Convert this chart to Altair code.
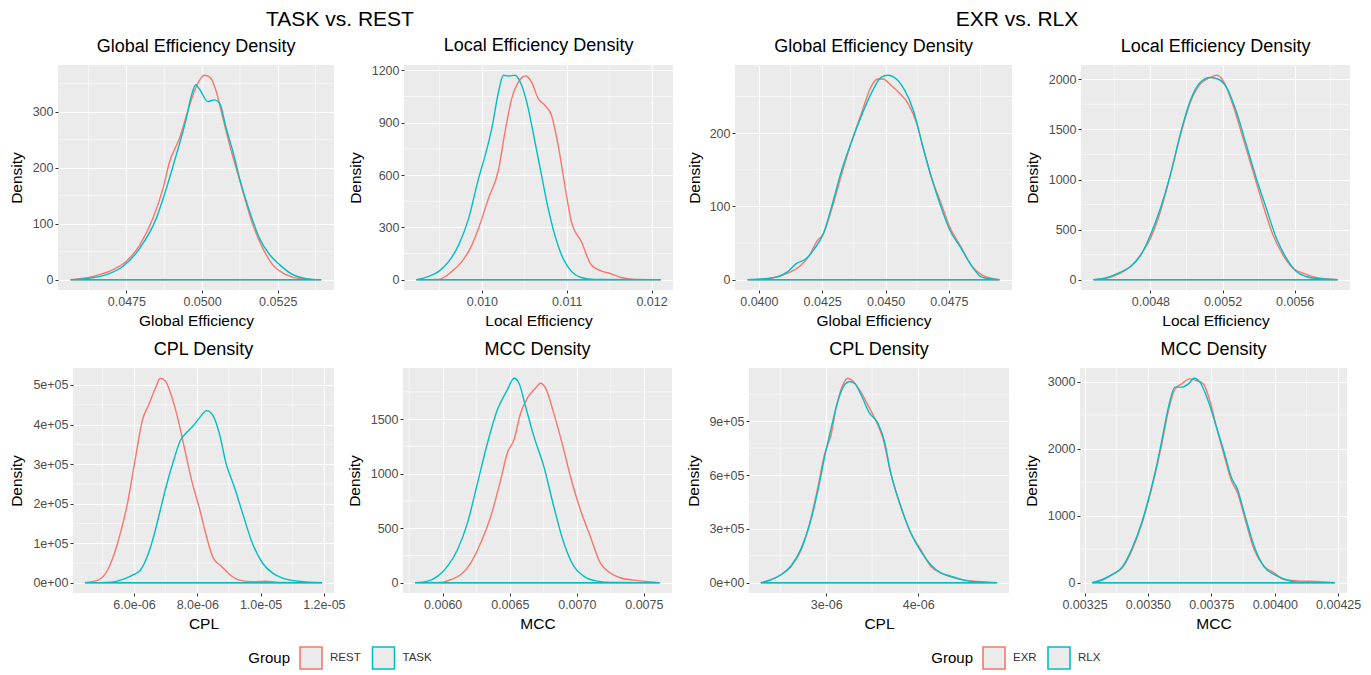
import altair as alt
import pandas as pd

FONT = "Liberation Sans"
RED, TEAL = "#F8766D", "#00BFC4"
LEFT_GROUPS = ["REST", "TASK"]
RIGHT_GROUPS = ["EXR", "RLX"]
GROUP_TITLES = ["TASK vs. REST", "EXR vs. RLX"]
PH = 225  # panel height

# ---------------- TASK vs. REST : Global Efficiency ----------------
ge1_rest_x = [0.045653, 0.0464, 0.04706, 0.0475, 0.04794, 0.04838, 0.04871, 0.04893, 0.04926, 0.04959,
              0.04981, 0.05008, 0.05025, 0.05047, 0.05069, 0.05091, 0.05113, 0.05135, 0.05168, 0.05201,
              0.05233, 0.05278, 0.05322, 0.053941]
ge1_rest_y = [0, 6, 18, 33, 62, 110, 163, 211, 253, 312, 345, 365, 362, 336, 288, 241, 199, 157, 98, 56,
              27, 9, 2, 0]
ge1_task_x = [0.045653, 0.04618, 0.04684, 0.04739, 0.04794, 0.04849, 0.04882, 0.04915, 0.04948, 0.04964,
              0.04979, 0.04992, 0.05019, 0.05041, 0.05058, 0.0508, 0.05102, 0.05124, 0.05157, 0.0519,
              0.05223, 0.05256, 0.053, 0.05344, 0.053941]
ge1_task_y = [0, 2, 9, 24, 56, 110, 163, 223, 288, 327, 348, 340, 318, 321, 315, 270, 229, 181, 122, 74,
              45, 27, 9, 2, 0]

# ---------------- TASK vs. REST : Local Efficiency ----------------
le1_rest_x = [0.009226, 0.009492, 0.009648, 0.009766, 0.009883, 0.009961, 0.010078, 0.010196, 0.010273,
              0.010352, 0.01043, 0.010516, 0.010586, 0.010664, 0.010742, 0.01082, 0.010899, 0.010977,
              0.011055, 0.011172, 0.011289, 0.011406, 0.011524, 0.011641, 0.011797, 0.012109]
le1_rest_y = [0, 2, 48, 105, 200, 295, 467, 629, 848, 1038, 1133, 1168, 1133, 1038, 1000, 943, 772, 543,
              333, 219, 86, 51, 34, 13, 2, 0]
le1_task_x = [0.009226, 0.009375, 0.009492, 0.00961, 0.009727, 0.009844, 0.009961, 0.01004, 0.010117,
              0.010196, 0.010254, 0.010313, 0.01039, 0.010469, 0.010547, 0.010625, 0.010703, 0.010781,
              0.010859, 0.010938, 0.011055, 0.011172, 0.011328, 0.012109]
le1_task_y = [0, 19, 48, 105, 200, 352, 581, 714, 867, 1076, 1172, 1168, 1172, 1114, 981, 791, 600, 410,
              257, 143, 48, 13, 2, 0]

# ---------------- TASK vs. REST : CPL ----------------
cpl1_rest_x = [4.445e-6, 4.86e-6, 5.17e-6, 5.48e-6, 5.79e-6, 6.05e-6, 6.26e-6, 6.47e-6, 6.68e-6, 6.83e-6,
               6.99e-6, 7.2e-6, 7.4e-6, 7.61e-6, 7.82e-6, 8.08e-6, 8.29e-6, 8.5e-6, 8.76e-6, 9.02e-6,
               9.33e-6, 9.74e-6, 1.016e-5, 1.058e-5, 1.1945e-5]
cpl1_rest_y = [0, 6.7e3, 33e3, 100e3, 200e3, 318e3, 410e3, 451e3, 493e3, 517e3, 510e3, 468e3, 410e3,
               334e3, 259e3, 184e3, 117e3, 63e3, 42e3, 21e3, 6.7e3, 2.5e3, 4e3, 1e3, 0]
cpl1_task_x = [4.445e-6, 5.27e-6, 5.69e-6, 6.0e-6, 6.21e-6, 6.42e-6, 6.62e-6, 6.83e-6, 7.04e-6, 7.25e-6,
               7.46e-6, 7.66e-6, 7.87e-6, 8.08e-6, 8.29e-6, 8.5e-6, 8.7e-6, 8.91e-6, 9.17e-6, 9.43e-6,
               9.74e-6, 1.006e-5, 1.037e-5, 1.068e-5, 1.12e-5, 1.1945e-5]
cpl1_task_y = [0, 1.7e3, 10e3, 21e3, 33e3, 67e3, 117e3, 184e3, 251e3, 309e3, 359e3, 380e3, 397e3, 418e3,
               435e3, 422e3, 376e3, 301e3, 242e3, 176e3, 100e3, 50e3, 25e3, 12.5e3, 4e3, 0]

# ---------------- TASK vs. REST : MCC ----------------
mcc1_rest_x = [0.005795, 0.005988, 0.006062, 0.006136, 0.00621, 0.006284, 0.006359, 0.006433, 0.006482,
               0.006532, 0.006581, 0.006631, 0.006692, 0.00673, 0.006767, 0.006828, 0.00689, 0.006952,
               0.007026, 0.0071, 0.007175, 0.007249, 0.007323, 0.007422, 0.007496, 0.007619]
mcc1_rest_y = [0, 3, 30, 76, 183, 366, 610, 945, 1189, 1311, 1555, 1692, 1784, 1829, 1784, 1555, 1281, 976,
               671, 427, 183, 91, 46, 24, 15, 0]
mcc1_task_x = [0.005795, 0.005889, 0.005963, 0.006037, 0.006111, 0.006185, 0.00626, 0.006334, 0.006408,
               0.006482, 0.006532, 0.006569, 0.006618, 0.00668, 0.006754, 0.006828, 0.006903, 0.006977,
               0.007051, 0.00715, 0.007274, 0.007619]
mcc1_task_y = [0, 15, 61, 152, 305, 549, 915, 1281, 1585, 1768, 1875, 1829, 1616, 1342, 1067, 701, 366, 152,
               61, 15, 3, 0]

# ---------------- EXR vs. RLX : Global Efficiency ----------------
ge2_exr_x = [0.039557, 0.040068, 0.040603, 0.041142, 0.041608, 0.04201, 0.04228, 0.042549, 0.042882,
             0.043284, 0.043686, 0.044088, 0.044422, 0.044691, 0.044892, 0.045226, 0.045564, 0.045897,
             0.046231, 0.0465, 0.046834, 0.047172, 0.047506, 0.047976, 0.048378, 0.04878, 0.049182, 0.049502]
ge2_exr_y = [0, 0.4, 3, 9, 18, 34, 52, 63, 97, 146, 191, 231, 263, 274, 274, 265, 254, 240, 213, 178, 137,
             106, 74, 45, 20, 7, 2, 0]
ge2_rlx_x = [0.039557, 0.040068, 0.040739, 0.041142, 0.041475, 0.041877, 0.042211, 0.042549, 0.042882,
             0.043284, 0.043686, 0.044088, 0.04449, 0.044824, 0.045093, 0.045427, 0.045765, 0.046098,
             0.0465, 0.046834, 0.047172, 0.047506, 0.047976, 0.048378, 0.04878, 0.049182, 0.049502]
ge2_rlx_y = [0, 1, 4, 11, 22, 29, 43, 63, 101, 151, 191, 227, 258, 276, 279, 274, 258, 231, 178, 137, 101,
             70, 43, 20, 4, 1, 0]

# ---------------- EXR vs. RLX : Local Efficiency ----------------
le2_exr_x = [0.004483, 0.004561, 0.004634, 0.00469, 0.004745, 0.0048, 0.004855, 0.00491, 0.004966, 0.005021,
             0.005076, 0.005131, 0.005167, 0.005204, 0.005259, 0.005315, 0.00537, 0.005425, 0.00548,
             0.005535, 0.00559, 0.005646, 0.005719, 0.005839]
le2_exr_y = [0, 17, 66, 132, 248, 413, 678, 1041, 1438, 1769, 1951, 2017, 2040, 1984, 1736, 1405, 1074, 744,
             446, 248, 116, 66, 23, 0]
le2_rlx_x = [0.004483, 0.004561, 0.004634, 0.00469, 0.004745, 0.0048, 0.004855, 0.00491, 0.004966, 0.005021,
             0.005076, 0.005131, 0.005177, 0.005223, 0.005278, 0.005333, 0.005388, 0.005443, 0.005499,
             0.005554, 0.005609, 0.005664, 0.005738, 0.005839]
le2_rlx_y = [0, 23, 76, 132, 241, 446, 711, 1041, 1455, 1785, 1967, 2017, 2000, 1917, 1670, 1339, 1008, 711,
             413, 215, 83, 33, 10, 0]

# ---------------- EXR vs. RLX : CPL ----------------
cpl2_exr_x = [2.289e-6, 2.404e-6, 2.513e-6, 2.621e-6, 2.729e-6, 2.838e-6, 2.91e-6, 2.982e-6, 3.054e-6,
              3.108e-6, 3.181e-6, 3.235e-6, 3.289e-6, 3.361e-6, 3.451e-6, 3.542e-6, 3.614e-6, 3.704e-6,
              3.812e-6, 3.921e-6, 4.029e-6, 4.137e-6, 4.245e-6, 4.354e-6, 4.498e-6, 4.642e-6, 4.859e-6]
cpl2_exr_y = [0, 18e3, 46e3, 92e3, 184e3, 367e3, 533e3, 716e3, 827e3, 974e3, 1102e3, 1139e3, 1124e3,
              1075e3, 992e3, 900e3, 808e3, 606e3, 423e3, 276e3, 184e3, 92e3, 55e3, 33e3, 15e3, 7e3, 0]
cpl2_rlx_x = [2.289e-6, 2.404e-6, 2.513e-6, 2.621e-6, 2.729e-6, 2.838e-6, 2.91e-6, 2.982e-6, 3.054e-6,
              3.126e-6, 3.199e-6, 3.253e-6, 3.307e-6, 3.379e-6, 3.469e-6, 3.56e-6, 3.632e-6, 3.704e-6,
              3.812e-6, 3.921e-6, 4.029e-6, 4.137e-6, 4.245e-6, 4.354e-6, 4.498e-6, 4.642e-6, 4.859e-6]
cpl2_rlx_y = [0, 18e3, 46e3, 96e3, 193e3, 358e3, 514e3, 698e3, 863e3, 1010e3, 1102e3, 1121e3, 1111e3,
              1047e3, 946e3, 891e3, 790e3, 606e3, 423e3, 276e3, 175e3, 101e3, 55e3, 37e3, 15e3, 4e3, 0]

# ---------------- EXR vs. RLX : MCC ----------------
mcc2_exr_x = [0.00328, 0.003321, 0.00336, 0.003399, 0.003438, 0.003477, 0.003503, 0.003529, 0.003555,
              0.003581, 0.003607, 0.003633, 0.003666, 0.003692, 0.003718, 0.003744, 0.00377, 0.003802,
              0.003828, 0.003854, 0.00388, 0.003919, 0.003958, 0.003997, 0.004036, 0.004101, 0.004166,
              0.004237]
mcc2_exr_y = [0, 40, 124, 222, 494, 890, 1236, 1631, 2076, 2570, 2891, 2965, 3039, 3015, 2965, 2718, 2323,
              1878, 1532, 1334, 988, 494, 247, 148, 49, 25, 20, 0]
mcc2_rlx_x = [0.00328, 0.003321, 0.00336, 0.003399, 0.003438, 0.003477, 0.003503, 0.003529, 0.003555,
              0.003581, 0.003607, 0.003633, 0.00366, 0.003682, 0.003705, 0.003737, 0.00377, 0.003802,
              0.003828, 0.003854, 0.00388, 0.003919, 0.003958, 0.003997, 0.004036, 0.004088, 0.004237]
mcc2_rlx_y = [0, 49, 124, 237, 519, 914, 1260, 1656, 2125, 2619, 2916, 2916, 2965, 3049, 2990, 2718, 2323,
              1927, 1581, 1384, 1038, 544, 237, 124, 59, 10, 0]


def panel(title, xtitle, groups, xa, ya, xb, yb, xdom, ydom, xticks, yticks, xminor, yminor,
          width, yext, ytpad, xfmt=None, xexpr=None, yfmt="d", yexpr=None):
    df = pd.DataFrame({
        "x": list(xa) + list(xb),
        "y": list(ya) + list(yb),
        "group": [groups[0]] * len(xa) + [groups[1]] * len(xb),
    })
    xs = alt.Scale(domain=xdom, nice=False, zero=False)
    ys = alt.Scale(domain=ydom, nice=False, zero=False)
    xkw = dict(values=xticks, title=xtitle, minExtent=18, maxExtent=18, titlePadding=5.25, labelFlush=False)
    if xfmt:
        xkw["format"] = xfmt
    if xexpr:
        xkw["labelExpr"] = xexpr
    ykw = dict(values=yticks, title="Density", minExtent=yext, maxExtent=yext, titlePadding=ytpad,
               labelFlush=False)
    if yfmt:
        ykw["format"] = yfmt
    if yexpr:
        ykw["labelExpr"] = yexpr
    xaxis = alt.Axis(**xkw)
    yaxis = alt.Axis(**ykw)

    vgrid = alt.Chart(pd.DataFrame({"v": xminor})).mark_rule(color="white", strokeWidth=0.55).encode(
        x=alt.X("v:Q", scale=xs, axis=xaxis))
    hgrid = alt.Chart(pd.DataFrame({"v": yminor})).mark_rule(color="white", strokeWidth=0.55).encode(
        y=alt.Y("v:Q", scale=ys, axis=yaxis))
    area = alt.Chart(df).mark_area(fillOpacity=0, strokeWidth=1.4, interpolate="monotone", clip=True).encode(
        x=alt.X("x:Q", scale=xs, axis=xaxis),
        y=alt.Y("y:Q", scale=ys, axis=yaxis),
        y2=alt.datum(0),
        stroke=alt.Stroke("group:N", scale=alt.Scale(domain=groups, range=[RED, TEAL]), legend=None),
    )
    return alt.layer(vgrid, hgrid, area).properties(
        width=width, height=PH,
        title=alt.TitleParams(title, fontSize=18, anchor="middle", frame="group", offset=9),
        view=alt.ViewBackground(fill="#EBEBEB", stroke="transparent"),
    )


def legend(groups, width, key_px, title_px):
    d = pd.DataFrame({"group": groups})
    xs = alt.Scale(type="point", domain=groups, range=key_px, padding=0)
    base = alt.Chart(d).encode(x=alt.X("group:N", scale=xs, axis=None))
    keys = base.mark_square(size=484, fill="#EBEBEB", strokeWidth=1.6, opacity=1).encode(
        stroke=alt.Stroke("group:N", scale=alt.Scale(domain=groups, range=[RED, TEAL]), legend=None))
    labels = base.mark_text(align="left", dx=19, fontSize=11.5, color="#333333").encode(text="group:N")
    ttl = alt.Chart(pd.DataFrame({"t": ["Group"]})).mark_text(align="right", fontSize=15, color="black").encode(
        x=alt.value(title_px), text="t:N")
    return alt.layer(keys, labels, ttl).properties(width=width, height=22)


def spacer():
    return alt.Chart(pd.DataFrame({"s": [0]})).mark_rule(opacity=0, strokeWidth=0).encode(
        x=alt.value(0), y=alt.value(0), y2=alt.value(1)).properties(width=1, height=1)


sci_e = "replace(format(datum.value, '.0e'), 'e+', 'e+0')"
sci_x1 = "replace(format(datum.value, '.1e'), 'e-', 'e-0')"
sci_x0 = "replace(format(datum.value, '.0e'), 'e-', 'e-0')"

p1 = panel("Global Efficiency Density", "Global Efficiency", LEFT_GROUPS,
           ge1_rest_x, ge1_rest_y, ge1_task_x, ge1_task_y,
           [0.04524, 0.05436], [-18.3, 383.3], [0.0475, 0.05, 0.0525], [0, 100, 200, 300],
           [0.04625, 0.04875, 0.05125, 0.05375], [50, 150, 250, 350],
           276, 26, 7.25, xfmt=".4f")
p2 = panel("Local Efficiency Density", "Local Efficiency", LEFT_GROUPS,
           le1_rest_x, le1_rest_y, le1_task_x, le1_task_y,
           [0.009082, 0.012253], [-58.6, 1230.6], [0.010, 0.011, 0.012], [0, 300, 600, 900, 1200],
           [0.0095, 0.0105, 0.0115], [150, 450, 750, 1050],
           269, 33, 7.25, xfmt=".3f")
p5 = panel("CPL Density", "CPL", LEFT_GROUPS,
           cpl1_rest_x, cpl1_rest_y, cpl1_task_x, cpl1_task_y,
           [4.07e-6, 1.232e-5], [-25850, 542850], [6e-6, 8e-6, 1e-5, 1.2e-5],
           [0, 1e5, 2e5, 3e5, 4e5, 5e5],
           [5e-6, 7e-6, 9e-6, 1.1e-5], [5e4, 1.5e5, 2.5e5, 3.5e5, 4.5e5],
           261, 41, 7.25, xexpr=sci_x1, yfmt=None, yexpr=sci_e)
p6 = panel("MCC Density", "MCC", LEFT_GROUPS,
           mcc1_rest_x, mcc1_rest_y, mcc1_task_x, mcc1_task_y,
           [0.005704, 0.00771], [-93.75, 1968.75], [0.006, 0.0065, 0.007, 0.0075], [0, 500, 1000, 1500],
           [0.00575, 0.00625, 0.00675, 0.00725], [250, 750, 1250, 1750],
           269, 33, 7.25, xfmt=".4f")

p3 = panel("Global Efficiency Density", "Global Efficiency", RIGHT_GROUPS,
           ge2_exr_x, ge2_exr_y, ge2_rlx_x, ge2_rlx_y,
           [0.03906, 0.04999], [-14, 293], [0.04, 0.0425, 0.045, 0.0475], [0, 100, 200],
           [0.04125, 0.04375, 0.04625, 0.04875], [50, 150, 250],
           277, 26, 6.25, xfmt=".4f")
p4 = panel("Local Efficiency Density", "Local Efficiency", RIGHT_GROUPS,
           le2_exr_x, le2_exr_y, le2_rlx_x, le2_rlx_y,
           [0.004415, 0.005907], [-102, 2142], [0.0048, 0.0052, 0.0056], [0, 500, 1000, 1500, 2000],
           [0.0046, 0.005, 0.0054, 0.0058], [250, 750, 1250, 1750],
           269, 33, 7.25, xfmt=".4f")
p7 = panel("CPL Density", "CPL", RIGHT_GROUPS,
           cpl2_exr_x, cpl2_exr_y, cpl2_rlx_x, cpl2_rlx_y,
           [2.1605e-6, 4.9875e-6], [-56950, 1195950], [3e-6, 4e-6], [0, 3e5, 6e5, 9e5],
           [2.5e-6, 3.5e-6, 4.5e-6], [1.5e5, 4.5e5, 7.5e5, 1.05e6],
           260, 41, 6.25, xexpr=sci_x0, yfmt=None, yexpr=sci_e)
p8 = panel("MCC Density", "MCC", RIGHT_GROUPS,
           mcc2_exr_x, mcc2_exr_y, mcc2_rlx_x, mcc2_rlx_y,
           [0.0032322, 0.0042849], [-152.45, 3201.45], [0.00325, 0.0035, 0.00375, 0.004, 0.00425],
           [0, 1000, 2000, 3000],
           [0.003375, 0.003625, 0.003875, 0.004125], [500, 1500, 2500],
           267, 33, 7.25, xfmt=".5f")

# group titles row
tdf = pd.DataFrame({"t": GROUP_TITLES})
title_row = alt.Chart(tdf).mark_text(fontSize=21, color="black", baseline="middle").encode(
    x=alt.X("t:N", scale=alt.Scale(type="point", domain=GROUP_TITLES, range=[332, 1009], padding=0), axis=None),
    y=alt.value(10.5),
    text="t:N",
).properties(width=1330, height=21)

IND = dict(stroke="independent")

row1 = alt.hconcat(
    spacer(),
    alt.hconcat(
        alt.hconcat(p1, p2, spacing=13).resolve_scale(**IND),
        alt.hconcat(p3, p4, spacing=12).resolve_scale(**IND),
        spacing=13,
    ).resolve_scale(**IND),
    spacing=0,
).resolve_scale(**IND)
row2 = alt.hconcat(
    spacer(),
    alt.hconcat(
        alt.hconcat(p5, p6, spacing=1).resolve_scale(**IND),
        alt.hconcat(p7, p8, spacing=14).resolve_scale(**IND),
        spacing=13,
    ).resolve_scale(**IND),
    spacing=0,
).resolve_scale(**IND)
legend_row = alt.hconcat(
    legend(LEFT_GROUPS, 663, [303, 375.5], 282),
    legend(RIGHT_GROUPS, 650, [309.75, 374.75], 288.75),
    spacing=13.25,
).resolve_scale(stroke="independent", x="independent")

body = alt.vconcat(
    alt.vconcat(row1, row2, spacing=11).resolve_scale(**IND),
    legend_row,
    spacing=11,
).resolve_scale(**IND)

chart = alt.vconcat(title_row, body, spacing=7).resolve_scale(**IND).properties(
    padding={"left": 0, "top": 0, "right": 0, "bottom": 0}
).configure(font=FONT).configure_axis(
    labelFont=FONT, titleFont=FONT, labelFontSize=12.5, labelColor="#4D4D4D",
    titleFontSize=15.5, titleFontWeight="normal", titleColor="black",
    tickColor="#333333", tickSize=3, tickWidth=1, domain=False,
    gridColor="white", gridWidth=1.1, labelPadding=2,
).configure_view(strokeWidth=0).configure_title(font=FONT, fontWeight="normal", color="black")

chart.save("out.html", embed_options={"renderer": "svg", "actions": False})
